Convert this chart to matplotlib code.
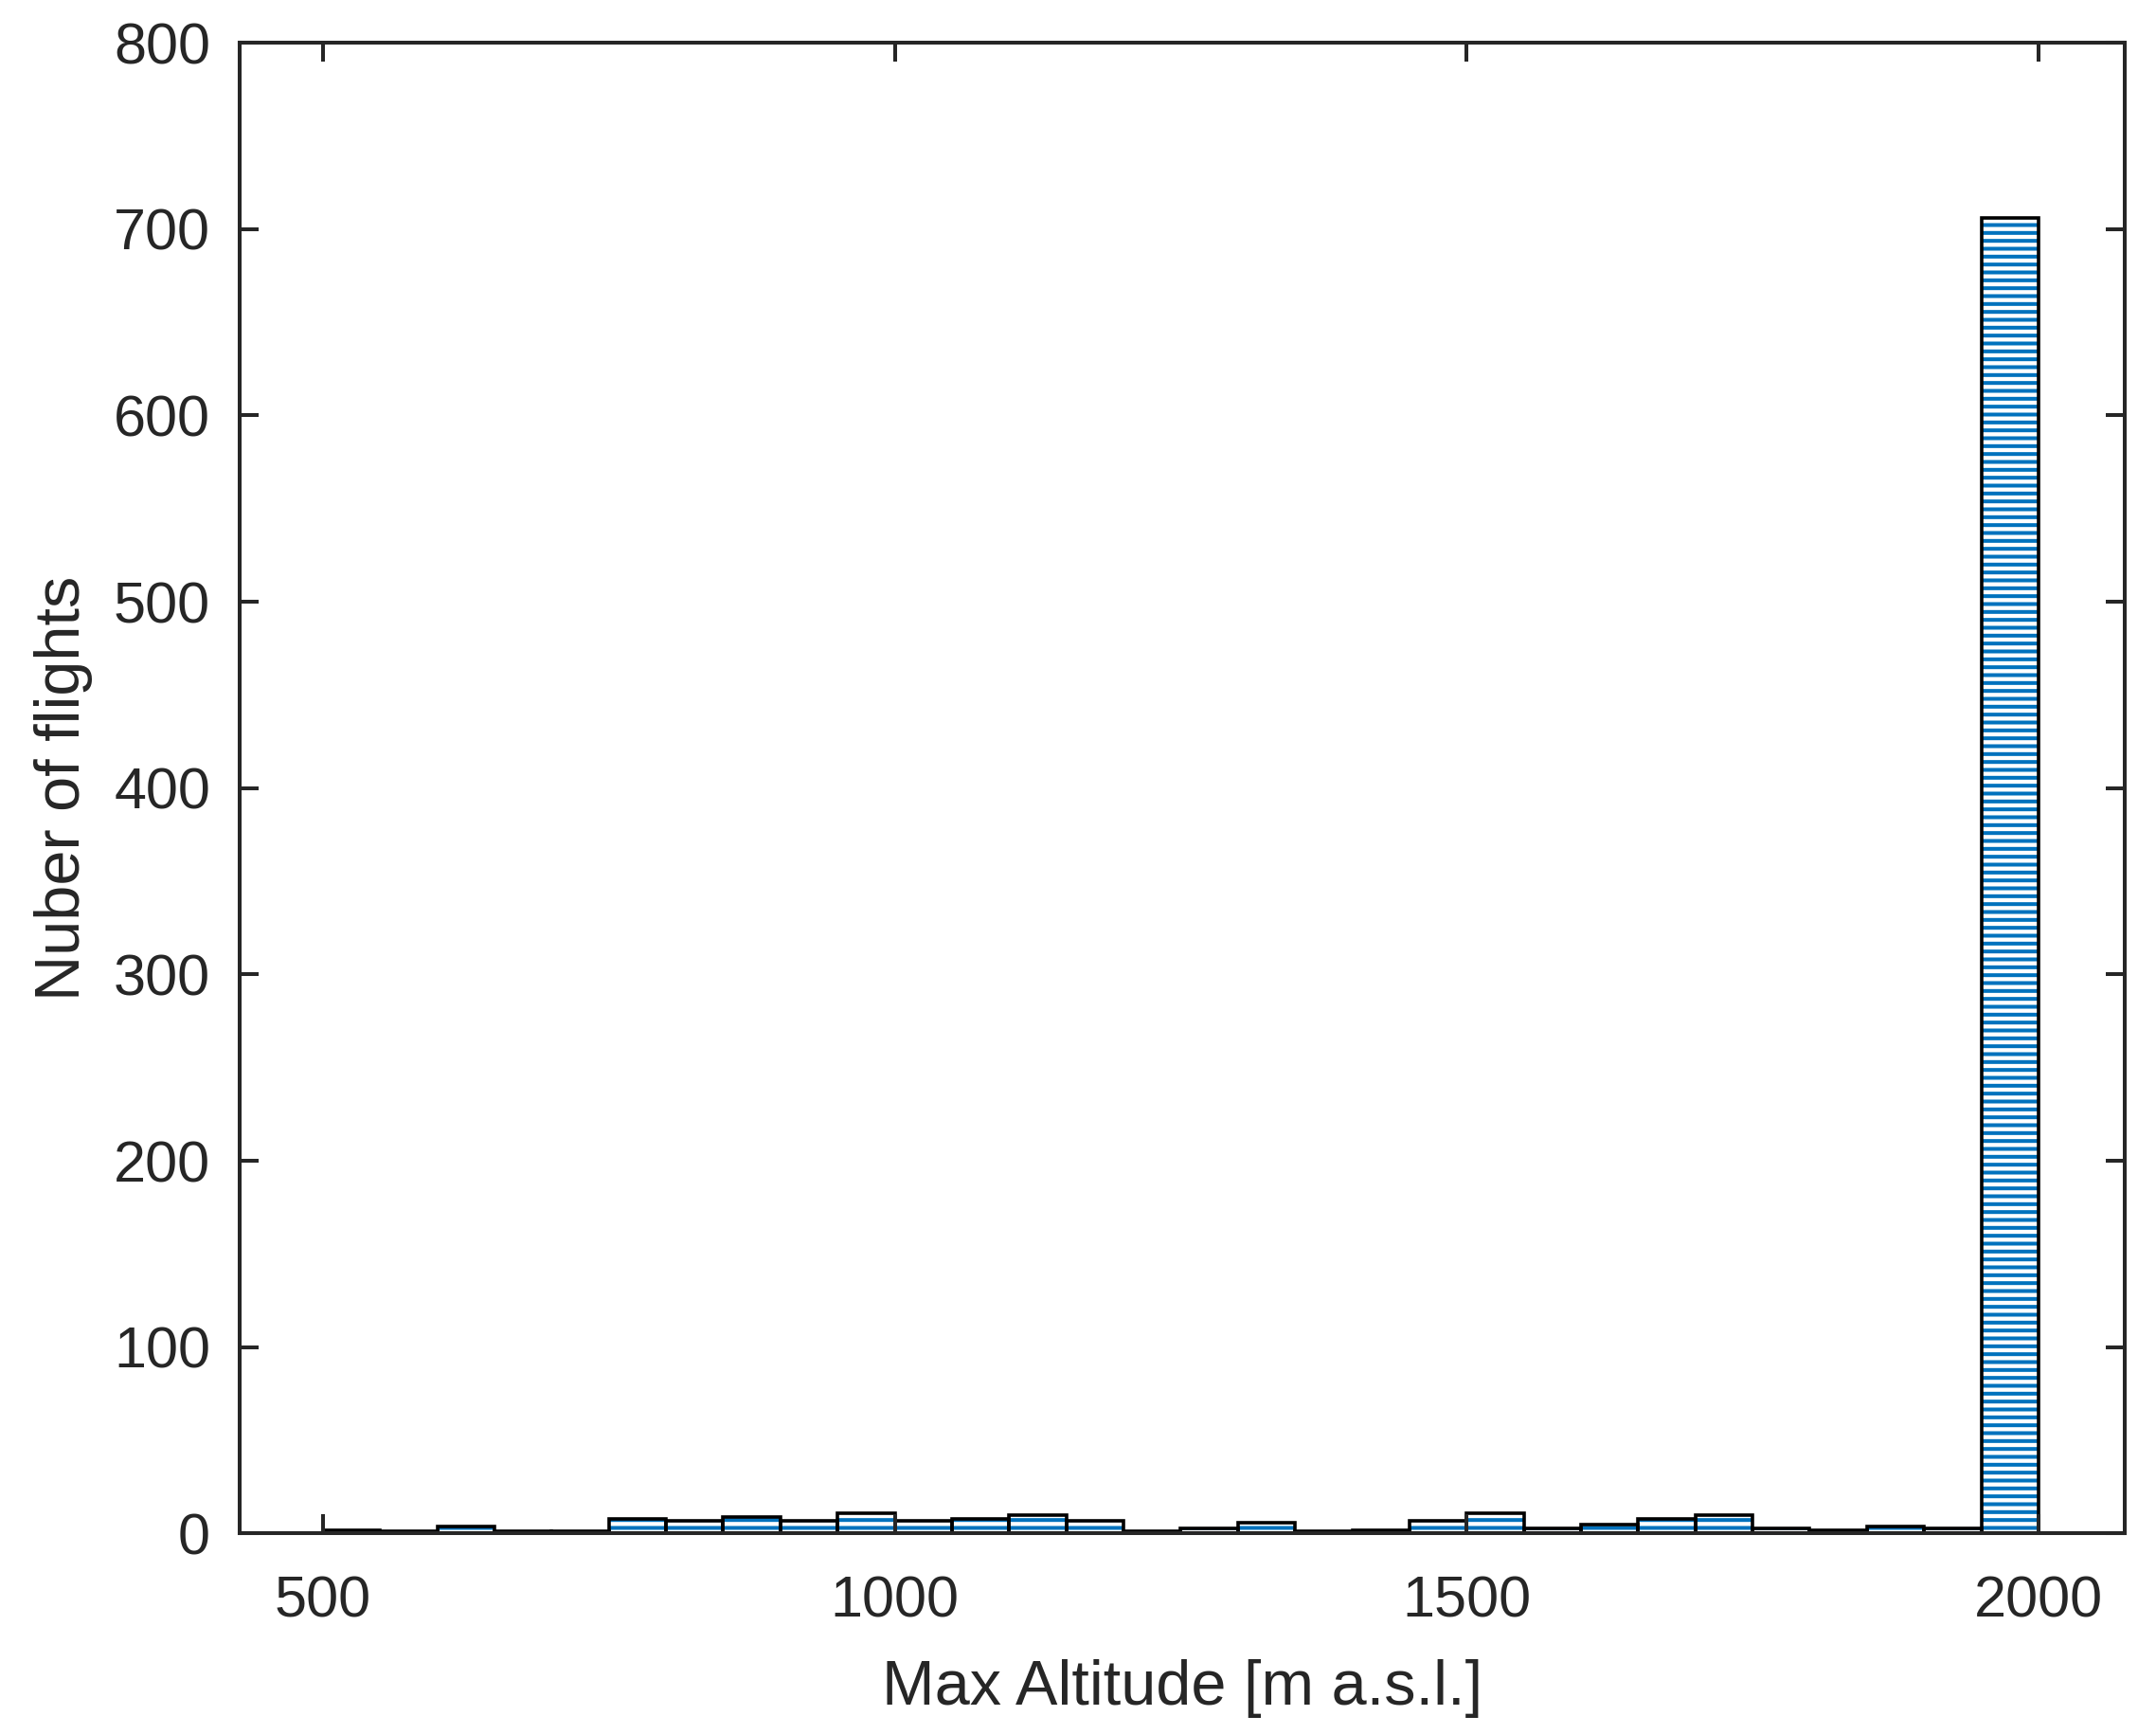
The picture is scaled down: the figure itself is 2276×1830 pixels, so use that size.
import numpy as np
import matplotlib
matplotlib.use("Agg")
import matplotlib.pyplot as plt

# histogram of max altitude, 50 m bins from 500 to 2000
bin_edges = np.arange(500, 2001, 50)
counts = [2, 1, 4, 1, 1, 8, 7, 9, 7, 11,
          7, 8, 10, 7, 1, 3, 6, 1, 2, 7,
          11, 3, 5, 8, 10, 3, 2, 4, 3, 706]
x_ticks = [500, 1000, 1500, 2000]
y_ticks = [0, 100, 200, 300, 400, 500, 600, 700, 800]

blue = '#0072BD'
dark = '#262626'

plt.rcParams['font.family'] = ['Liberation Sans', 'DejaVu Sans']
plt.rcParams['hatch.linewidth'] = 2.9

fig = plt.figure(figsize=(22.76, 18.30), dpi=100)
ax = fig.add_axes([0.111, 0.1156, 0.8743, 0.8598])

lefts = bin_edges[:-1]
widths = np.diff(bin_edges)

# striped fill (hatch colour follows edge colour, so edge width 0 here)
ax.bar(lefts, counts, width=widths, align='edge', color='white',
       edgecolor=blue, linewidth=0, hatch='--', zorder=1)
# black outlines on top
ax.bar(lefts, counts, width=widths, align='edge', fill=False,
       edgecolor='black', linewidth=2.6, zorder=1.5)

ax.set_xlim(427, 2075)
ax.set_ylim(0, 800)
ax.set_xticks(x_ticks)
ax.set_yticks(y_ticks)

for s in ax.spines.values():
    s.set_linewidth(2.9)
    s.set_color(dark)

ax.tick_params(axis='both', which='both', direction='in', length=14.5,
               width=2.9, color=dark, labelcolor=dark, labelsize=44,
               top=True, right=True)
ax.tick_params(axis='x', pad=32)
ax.tick_params(axis='y', pad=22)

ax.set_xlabel('Max Altitude [m a.s.l.]', fontsize=48, color=dark)
ax.set_ylabel('Nuber of flights', fontsize=48, color=dark)
ax.xaxis.set_label_coords(0.5, -0.084)
ax.yaxis.set_label_coords(-0.0775, 0.5)

fig.savefig('out.png', dpi=100)
